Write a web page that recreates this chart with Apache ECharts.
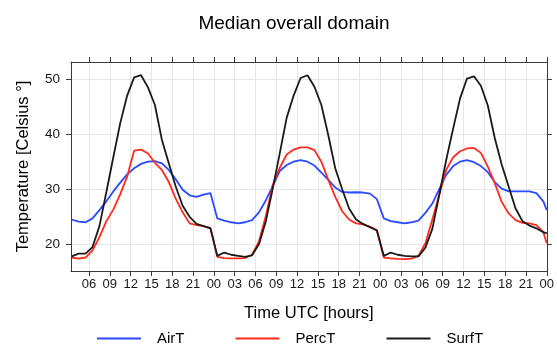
<!DOCTYPE html>
<html>
<head>
<meta charset="utf-8">
<script src="https://cdn.jsdelivr.net/npm/echarts@6/dist/echarts.min.js"></script>
<style>
html,body{margin:0;padding:0;background:#fff;}
#chart{width:557px;height:350px;}
</style>
</head>
<body>
<div id="chart"></div>
<script>
// Hour (UTC, hours since start of day 1) of each sample
var hours = [3.5,4.5,5.5,6.5,7.5,8.5,9.5,10.5,11.5,12.5,13.5,14.5,15.5,16.5,17.5,18.5,19.5,20.5,21.5,22.5,23.5,
  24.5,25.5,26.5,27.5,28.5,29.5,30.5,31.5,32.5,33.5,34.5,35.5,36.5,37.5,38.5,39.5,40.5,41.5,42.5,43.5,44.5,45.5,46.5,47.5,
  48.5,49.5,50.5,51.5,52.5,53.5,54.5,55.5,56.5,57.5,58.5,59.5,60.5,61.5,62.5,63.5,64.5,65.5,66.5,67.5,68.5,69.5,70.5,71.5,72];

var airT = [24.5,24.1,24.0,24.7,26.2,27.8,29.6,31.2,32.7,33.8,34.6,35.0,35.1,34.7,33.5,31.8,29.9,28.9,28.6,29.0,29.3,
  24.7,24.3,24.0,23.8,24.0,24.4,25.8,28.0,30.6,33.3,34.4,35.0,35.3,35.0,34.3,33.0,31.7,30.3,29.5,29.4,29.45,29.4,29.2,28.2,
  24.7,24.2,24.0,23.8,24.0,24.3,25.7,27.4,30.0,32.6,34.2,35.0,35.3,34.9,34.2,33.1,31.3,30.1,29.6,29.6,29.6,29.6,29.3,27.8,26.2];

var percT = [17.6,17.4,17.6,18.9,21.3,24.2,26.3,29.1,32.3,37.0,37.2,36.5,34.8,33.5,31.3,28.3,25.8,23.8,23.5,23.3,23.0,
  17.7,17.5,17.45,17.45,17.5,18.1,20.5,25.2,30.8,33.9,36.3,37.2,37.6,37.6,37.1,35.0,31.7,28.6,26.0,24.5,23.8,23.6,23.2,22.6,
  17.6,17.45,17.35,17.3,17.4,17.9,20.2,24.5,29.0,33.5,35.8,36.9,37.4,37.5,36.6,34.1,31.1,27.7,25.6,24.4,23.9,23.8,23.5,22.2,20.2];

var surfT = [17.8,18.3,18.3,19.5,23.3,29.5,35.8,42.0,47.0,50.3,50.7,48.5,45.3,39.0,34.7,30.5,27.0,25.0,23.7,23.3,22.9,
  17.9,18.5,18.1,17.9,17.7,18.0,20.0,24.2,30.2,36.5,43.0,47.0,50.2,50.7,48.6,45.3,39.8,33.8,30.0,26.5,24.5,23.7,23.1,22.5,
  17.9,18.5,18.1,17.9,17.8,17.8,19.4,22.8,29.0,35.3,41.0,46.5,50.1,50.5,48.8,45.2,39.3,34.5,30.5,26.5,24.2,23.4,22.9,22.2,22.0];

var xTicks = [6,9,12,15,18,21,24,27,30,33,36,39,42,45,48,51,54,57,60,63,66,69,72];
var yTicks = [20,30,40,50];
var seriesNames = ['AirT','PercT','SurfT'];
var seriesColors = ['#2a4bff','#ff2a1f','#1a1a1a'];

function pairs(vals){ return hours.map(function(h,i){ return [h, vals[i]]; }); }
function hh(v){ var h = Math.round(v) % 24; return (h < 10 ? '0' : '') + h; }

var font = 'Liberation Sans, Arial, sans-serif';
var frameColor = '#3a3a3a';
var chart = echarts.init(document.getElementById('chart'), null, {renderer:'canvas'});

var xBase = {
  type:'value', min:3.4, max:72,
  axisLine:{show:true, lineStyle:{color:frameColor, width:1}},
  axisTick:{show:true, inside:false, length:5, customValues:xTicks, lineStyle:{color:frameColor}}
};
var yBase = {
  type:'value', min:15.15, max:53.1,
  axisLine:{show:true, lineStyle:{color:frameColor, width:1}},
  axisTick:{show:true, inside:false, length:5, customValues:yTicks, lineStyle:{color:frameColor}}
};

var option = {
  animation:false,
  backgroundColor:'#fff',
  title:{
    text:'Median overall domain', left:289, top:9, textAlign:'center',
    textStyle:{fontFamily:font, fontSize:19, fontWeight:'normal', color:'#000'}
  },
  grid:{left:71, right:4, top:62, bottom:79, containLabel:false},
  xAxis:[
    Object.assign({}, xBase, {
      position:'bottom',
      axisLabel:{show:true, customValues:xTicks, formatter:hh, margin:7, fontFamily:font, fontSize:13, color:'#1a1a1a'},
      splitLine:{show:true, lineStyle:{color:'#e6e6e6', width:1}},
      name:'Time UTC [hours]', nameLocation:'middle', nameGap:34,
      nameTextStyle:{fontFamily:font, fontSize:16.5, color:'#000'}
    }),
    Object.assign({}, xBase, {
      position:'top',
      axisLabel:{show:false},
      splitLine:{show:false}
    })
  ],
  yAxis:[
    Object.assign({}, yBase, {
      position:'left',
      axisLabel:{show:true, customValues:yTicks, margin:11, fontFamily:font, fontSize:13.5, color:'#1a1a1a'},
      splitLine:{show:true, lineStyle:{color:'#e6e6e6', width:1}},
      name:'Temperature [Celsius °]', nameLocation:'middle', nameGap:39, nameRotate:90,
      nameTextStyle:{fontFamily:font, fontSize:16.5, color:'#000'}
    }),
    Object.assign({}, yBase, {
      position:'right',
      axisLabel:{show:false},
      splitLine:{show:false}
    })
  ],
  legend:{
    left:92, top:326, itemGap:51, itemWidth:44, itemHeight:2,
    icon:'rect',
    textStyle:{fontFamily:font, fontSize:15, color:'#000', padding:[0,0,0,11]},
    data:seriesNames
  },
  series:[airT, percT, surfT].map(function(vals, i){
    return {
      name:seriesNames[i], type:'line', xAxisIndex:0, yAxisIndex:0,
      data:pairs(vals), showSymbol:false, symbol:'none', smooth:false,
      lineStyle:{color:seriesColors[i], width:1.8},
      itemStyle:{color:seriesColors[i]},
      clip:true, z:3
    };
  })
};
chart.setOption(option);
</script>
</body>
</html>
